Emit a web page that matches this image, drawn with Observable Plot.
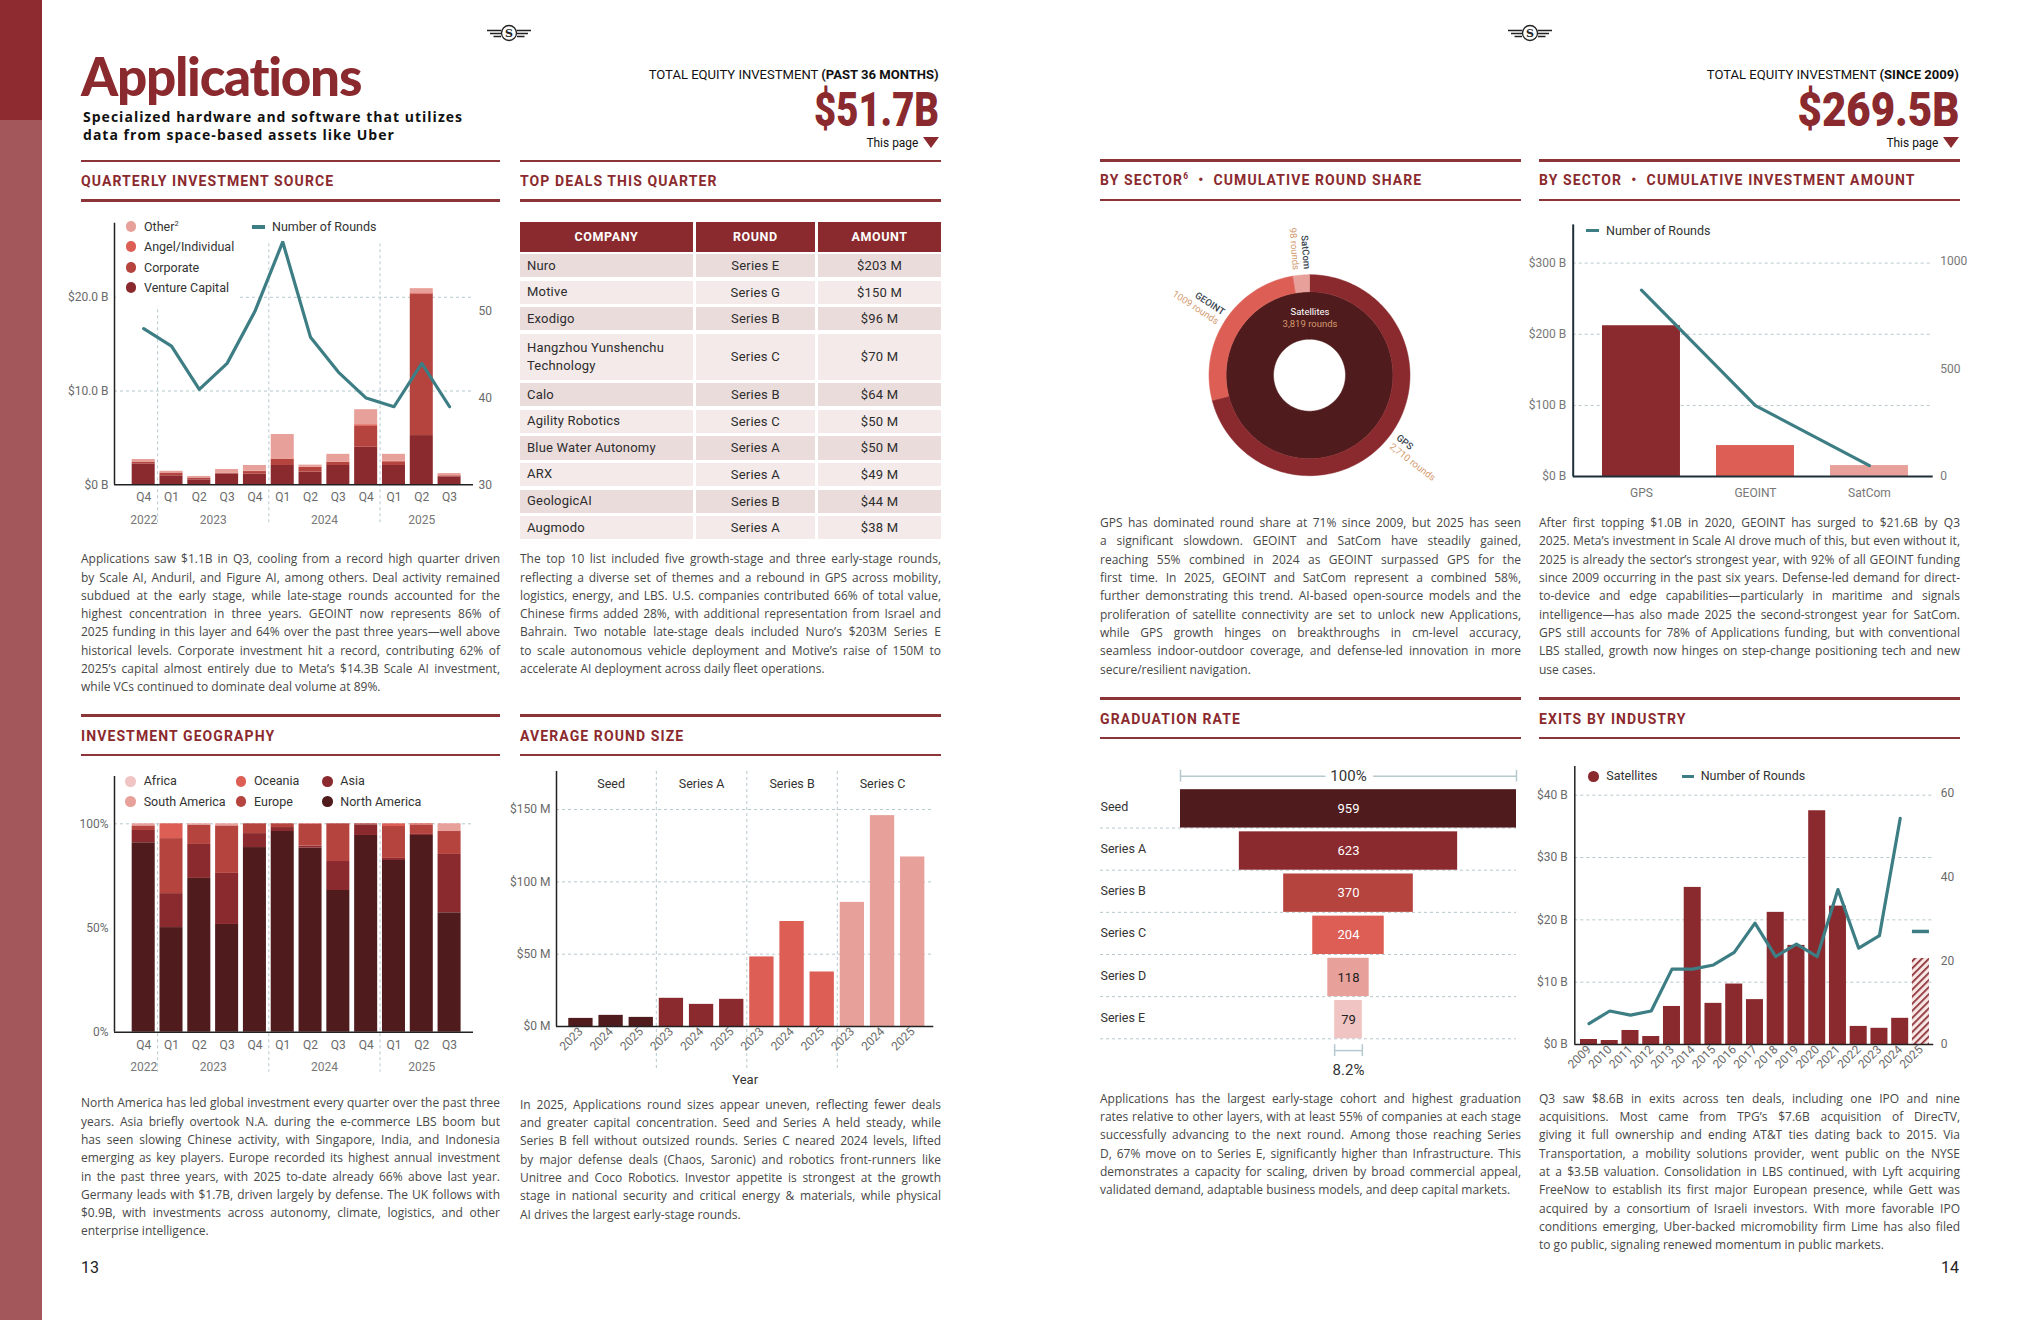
<!DOCTYPE html>
<html><head><meta charset="utf-8">
<script src="https://cdn.jsdelivr.net/npm/d3@7"></script>
<script src="https://cdn.jsdelivr.net/npm/@observablehq/plot@0.6"></script>
<style>
html,body{margin:0;padding:0;background:#fff;}
body{width:2040px;height:1320px;position:relative;overflow:hidden;font-family:Roboto,sans-serif;}
sup{font-size:0.6em;line-height:0;}
</style></head><body>
<script>
// ================= DATA =================
// Quarterly investment source ($B) and number of rounds
const quarters = ["Q4","Q1","Q2","Q3","Q4","Q1","Q2","Q3","Q4","Q1","Q2","Q3"];
const quarterYears = [2022,2023,2023,2023,2023,2024,2024,2024,2024,2025,2025,2025];
const srcVentureCapital = [2.23,0.96,0.53,1.13,1.13,2.06,1.35,2.06,4.00,2.06,5.25,0.85];
const srcCorporate      = [0.18,0.28,0.18,0.10,0.28,0.64,0.50,0.32,2.23,0.39,15.10,0.10];
const srcAngel          = [0.04,0.04,0.03,0.03,0.05,0.06,0.05,0.05,0.18,0.05,0.12,0.03];
const srcOther          = [0.25,0.16,0.15,0.37,0.60,2.60,0.20,0.82,1.60,0.75,0.45,0.22];
const quarterRounds = [48,46,41,44,50,58,47,43,40,39,44,39];

// Investment geography (% share)
const geoNorthAmerica  = [90.9,50.2,73.8,51.7,88.6,96.3,88.3,68.0,94.4,82.4,94.4,57.3];
const geoAsia          = [5.9,16.3,16.3,24.5,6.7,1.9,1.0,13.9,5.1,1.0,0.5,28.0];
const geoEurope        = [2.2,26.4,9.3,22.8,4.7,1.8,10.4,18.1,0.5,15.3,4.5,11.0];
const geoOceania       = [0,7.1,0,0,0,0,0.3,0,0,1.3,0.6,0];
const geoSouthAmerica  = [1.0,0,0.6,1.0,0,0,0,0,0,0,0,3.7];
const geoAfrica        = [0,0,0,0,0,0,0,0,0,0,0,0];

// Top deals
const dealCompanies = ["Nuro","Motive","Exodigo","Hangzhou Yunshenchu Technology","Calo","Agility Robotics","Blue Water Autonomy","ARX","GeologicAI","Augmodo"];
const dealRounds = ["Series E","Series G","Series B","Series C","Series B","Series C","Series A","Series A","Series B","Series A"];
const dealAmounts = ["$203 M","$150 M","$96 M","$70 M","$64 M","$50 M","$50 M","$49 M","$44 M","$38 M"];

// Average round size ($M)
const roundStages = ["Seed","Series A","Series B","Series C"];
const roundYears = ["2023","2024","2025"];
const avgSeed    = [5.6,7.7,6.3];
const avgSeriesA = [19.5,15.3,18.8];
const avgSeriesB = [48.1,72.6,37.7];
const avgSeriesC = [85.8,145.8,117.2];

// Cumulative round share by sector
const sectorNames = ["GPS","GEOINT","SatCom"];
const sectorRoundCounts = [2710,1009,98];
const sectorRoundText = ["2,710 rounds","1009 rounds","98 rounds"];
const satelliteRoundCount = 3819;

// Cumulative investment by sector
const sectorInvestment = [212,43.6,15.5];   // $B
const sectorRounds = [865,329,51];

// Graduation rate
const gradStages = ["Seed","Series A","Series B","Series C","Series D","Series E"];
const gradCounts = [959,623,370,204,118,79];

// Exits by industry
const exitYears = [2009,2010,2011,2012,2013,2014,2015,2016,2017,2018,2019,2020,2021,2022,2023,2024,2025];
const exitValues = [0.8,0.64,2.25,1.28,6.1,25.2,6.6,9.7,7.2,21.2,15.9,37.5,22.2,2.9,2.6,4.2,13.8];
const exitRounds = [5,8,7,8,18,18,19,22,29,21,24,21,37,23,26,54,27];

// Paragraphs
const txtQuarterly = [
"Applications saw $1.1B in Q3, cooling from a record high quarter driven",
"by Scale AI, Anduril, and Figure AI, among others. Deal activity remained",
"subdued at the early stage, while late-stage rounds accounted for the",
"highest concentration in three years. GEOINT now represents 86% of",
"2025 funding in this layer and 64% over the past three years—well above",
"historical levels. Corporate investment hit a record, contributing 62% of",
"2025’s capital almost entirely due to Meta’s $14.3B Scale AI investment,",
"while VCs continued to dominate deal volume at 89%."];
const txtDeals = [
"The top 10 list included five growth-stage and three early-stage rounds,",
"reflecting a diverse set of themes and a rebound in GPS  across mobility,",
"logistics, energy, and LBS. U.S. companies contributed 66% of total value,",
"Chinese firms added 28%, with additional representation from Israel and",
"Bahrain. Two notable late-stage deals included Nuro’s $203M Series E",
"to scale autonomous vehicle deployment and Motive’s raise of 150M to",
"accelerate AI deployment across daily fleet operations."];
const txtShare = [
"GPS has dominated round share at 71% since 2009, but 2025 has seen",
"a significant slowdown. GEOINT and SatCom have steadily gained,",
"reaching 55% combined in 2024 as GEOINT surpassed GPS for the",
"first time. In 2025, GEOINT and SatCom represent a combined 58%,",
"further demonstrating this trend. AI-based open-source models and the",
"proliferation of satellite connectivity are set to unlock new Applications,",
"while GPS growth hinges on breakthroughs in cm-level accuracy,",
"seamless indoor-outdoor coverage, and defense-led innovation in more",
"secure/resilient navigation."];
const txtAmount = [
"After first topping $1.0B in 2020, GEOINT has surged to $21.6B by Q3",
"2025. Meta’s investment in Scale AI drove much of this, but even without it,",
"2025 is already the sector’s strongest year, with 92% of all GEOINT funding",
"since 2009 occurring in the past six years. Defense-led demand for direct-",
"to-device and edge capabilities—particularly in maritime and signals",
"intelligence—has also made 2025 the second-strongest year for SatCom.",
"GPS still accounts for 78% of Applications funding, but with conventional",
"LBS stalled, growth now hinges on step-change positioning tech and new",
"use cases."];
const txtGeo = [
"North America has led global investment every quarter over the past three",
"years. Asia briefly overtook N.A. during the e-commerce LBS boom but",
"has seen slowing Chinese activity, with Singapore, India, and Indonesia",
"emerging as key players. Europe recorded its highest annual investment",
"in the past three years, with 2025 to-date already 66% above last year.",
"Germany leads with $1.7B, driven largely by defense. The UK follows with",
"$0.9B, with investments across autonomy, climate, logistics, and other",
"enterprise intelligence."];
const txtRound = [
"In 2025, Applications round sizes appear uneven, reflecting fewer deals",
"and greater capital concentration. Seed and Series A held steady, while",
"Series B fell without outsized rounds. Series C neared 2024 levels, lifted",
"by major defense deals (Chaos, Saronic) and robotics front-runners like",
"Unitree and Coco Robotics. Investor appetite is strongest at the growth",
"stage in national security and critical energy & materials, while physical",
"AI drives the largest early-stage rounds."];
const txtGrad = [
"Applications has the largest early-stage cohort and highest graduation",
"rates relative to other layers, with at least 55% of companies at each stage",
"successfully advancing to the next round. Among those reaching Series",
"D, 67% move on to Series E, significantly higher than Infrastructure. This",
"demonstrates a capacity for scaling, driven by broad commercial appeal,",
"validated demand, adaptable business models, and deep capital markets."];
const txtExits = [
"Q3 saw $8.6B in exits across ten deals, including one IPO and nine",
"acquisitions. Most came from TPG’s $7.6B acquisition of DirecTV,",
"giving it full ownership and ending AT&T ties dating back to 2015. Via",
"Transportation, a mobility solutions provider, went public on the NYSE",
"at a $3.5B valuation. Consolidation in LBS continued, with Lyft acquiring",
"FreeNow to establish its first major European presence, while Gett was",
"acquired by a consortium of Israeli investors. With more favorable IPO",
"conditions emerging, Uber-backed micromobility firm Lime has also filed",
"to go public, signaling renewed momentum in public markets."];

// ================= STYLE =================
const C = {dk:"#4F1B1C", r1:"#8B2A2E", r2:"#B5443F", r3:"#DC5E55", r4:"#E8A09A", r5:"#F0C4C2",
           teal:"#3D7D84", grid:"#b5c9ce", tan:"#d49a70"};
const baseStyle = {background:"transparent", overflow:"visible", fontFamily:"Roboto", fontSize:"12px", color:"#6a6a6a"};

function div(style, html, parent) {
  const d = document.createElement('div');
  d.style.cssText = 'position:absolute;' + style;
  if (html != null) d.innerHTML = html;
  (parent || document.body).appendChild(d);
  return d;
}
function place(svg, left, top, w) {
  const d = div(`left:${left}px;top:${top}px;width:${w}px;`);
  d.appendChild(svg);
  return d;
}
function fitScale(el, target, origin) {
  const w = el.getBoundingClientRect().width;
  el.style.transformOrigin = origin || 'left center';
  el.style.transform = `scaleX(${target / w})`;
}
function fitSpacing(el, target) {
  const w = el.getBoundingClientRect().width;
  const n = el.textContent.length;
  const cur = parseFloat(getComputedStyle(el).letterSpacing) || 0;
  el.style.letterSpacing = (cur + (target - w) / n) + 'px';
}
function para(x, yFirst, w, lines) {
  const p = div(`left:${x}px;top:${yFirst - 9.15}px;width:${w}px;font:12px 'Open Sans';color:#474747;`);
  lines.forEach((t0, i) => {
    const t = t0.replace(/\s+/g, ' ');
    const ln = document.createElement('div');
    ln.style.cssText = 'height:18.3px;line-height:18.3px;white-space:nowrap;';
    const sp = document.createElement('span');
    sp.textContent = t;
    ln.appendChild(sp); p.appendChild(ln);
    if (i < lines.length - 1) {
      const nat = sp.getBoundingClientRect().width;
      const n = (t.match(/ /g) || []).length;
      if (n) sp.style.wordSpacing = ((w - nat) / n) + 'px';
    }
  });
}

// ================= PAGE FRAME =================
div('left:0;top:0;width:42px;height:120px;background:#8E2B30;');
div('left:0;top:120px;width:42px;height:1200px;background:#A3575A;');

const logoSvg = `<svg width="46" height="24" viewBox="0 0 46 24"><g stroke="#222" stroke-width="1.3" fill="none"><circle cx="23" cy="12" r="7.5"/><path d="M1 9.5H15M4 12.5H15M7.5 15.5H15M31 9.5H45M31 12.5H42M31 15.5H38.5"/></g><text x="23" y="16.2" text-anchor="middle" font-size="11" font-weight="700" font-family="DejaVu Serif" fill="#222">S</text></svg>`;
div('left:486px;top:21px;', logoSvg);
div('left:1507px;top:21px;', logoSvg);

// Title block
const title = div('left:81px;top:53.5px;font:900 53px Lato;line-height:44px;color:#8B2A2E;white-space:nowrap;', 'Applications');
fitSpacing(title, 281);
const sub1 = div('left:83px;top:108px;font:700 14px "Open Sans";line-height:18.2px;color:#111;white-space:nowrap;', 'Specialized hardware and software that utilizes');
fitSpacing(sub1, 380);
const ls = sub1.style.letterSpacing;
div(`left:83px;top:126.2px;font:700 14px "Open Sans";line-height:18.2px;color:#111;white-space:nowrap;letter-spacing:${ls}`, 'data from space-based assets like Uber');

function totalBlock(rightEdge, label, bold, amount, wLabel, wAmount) {
  const r = 2040 - rightEdge;
  const t = div(`right:${r}px;top:67.5px;font:400 13px Roboto;line-height:13px;color:#111;white-space:nowrap;`, `${label} <b>${bold}</b>`);
  fitScale(t, wLabel, 'right center');
  const a = div(`right:${r}px;top:84.7px;font:900 49px Roboto;line-height:49px;color:#8B2A2E;white-space:nowrap;`, amount);
  fitScale(a, wAmount, 'right center');
  const tp = div(`right:${r + 21}px;top:135.5px;font:400 12.5px Roboto;line-height:13px;color:#111;white-space:nowrap;`, 'This page');
  fitScale(tp, 52, 'right center');
  div(`right:${r}px;top:137px;width:0;height:0;border-left:8px solid transparent;border-right:8px solid transparent;border-top:11px solid #8B2A2E;`);
}
totalBlock(939, 'TOTAL EQUITY INVESTMENT', '(PAST 36 MONTHS)', '$51.7B', 290, 125);
totalBlock(1959, 'TOTAL EQUITY INVESTMENT', '(SINCE 2009)', '$269.5B', 252, 162);

// Section rules and headers
const cols = [{x:81,w:419},{x:520,w:421},{x:1100,w:421},{x:1539,w:421}];
function section(col, yTop, label) {
  div(`left:${col.x}px;top:${yTop - 1.25}px;width:${col.w}px;height:2.5px;background:#8b3539;`);
  div(`left:${col.x}px;top:${yTop + 39.5 - 1.25}px;width:${col.w}px;height:2.5px;background:#8b3539;`);
  div(`left:${col.x}px;top:${yTop + 20 - 8}px;font:700 14px Roboto;letter-spacing:1.1px;color:#8b2a2e;line-height:16px;white-space:nowrap;`, label);
}
section(cols[0], 160.8, "QUARTERLY INVESTMENT SOURCE");
section(cols[1], 160.8, "TOP DEALS THIS QUARTER");
section(cols[2], 160.3, "BY SECTOR<sup>6</sup> &nbsp;•&nbsp; CUMULATIVE ROUND SHARE");
section(cols[3], 160.3, "BY SECTOR &nbsp;•&nbsp; CUMULATIVE INVESTMENT AMOUNT");
section(cols[0], 715.7, "INVESTMENT GEOGRAPHY");
section(cols[1], 715.7, "AVERAGE ROUND SIZE");
section(cols[2], 698.7, "GRADUATION RATE");
section(cols[3], 698.7, "EXITS BY INDUSTRY");

// Paragraphs
para(81, 559.4, 419, txtQuarterly);
para(520, 559.4, 421, txtDeals);
para(1100, 523.3, 421, txtShare);
para(1539, 523.3, 421, txtAmount);
para(81, 1103.5, 419, txtGeo);
para(520, 1105, 421, txtRound);
para(1100, 1099, 421, txtGrad);
para(1539, 1099, 421, txtExits);

div('left:81px;top:1260px;font:400 16px Roboto;line-height:16px;color:#222;', '13');
div('right:81px;top:1260px;font:400 16px Roboto;line-height:16px;color:#222;', '14');

// ================= HELPERS FOR CHARTS =================
function yearCenters(years, xd) {
  return d3.groups(years.map((y, i) => ({y, i})), d => d.y).map(([y, arr]) => {
    const a = Math.max(xd[0], d3.min(arr, d => d.i) - 0.5);
    const b = Math.min(xd[1], d3.max(arr, d => d.i) + 0.5);
    return {year: String(y), x: (a + b) / 2};
  });
}
function yearDividers(years) {
  return years.map((y, i) => i).filter(i => i > 0 && years[i] !== years[i - 1]).map(i => i - 0.5);
}
function stackRows(series) { // series: [{vals, color}], bottom to top
  const rows = [];
  series[0].vals.forEach((_, i) => {
    let acc = 0;
    series.forEach(s => { const v = s.vals[i]; if (v > 0) rows.push({i, y1: acc, y2: acc + v, color: s.color}); acc += v; });
  });
  return rows;
}
const dash = {stroke: C.grid, strokeDasharray: "3,3", strokeWidth: 1};

// ================= CHART 1: QUARTERLY INVESTMENT SOURCE =================
try {
  const qIdx = d3.range(quarters.length);
  const xd = [-1.05, 11.86];
  const k = 0.925; // $B per round above 30
  const rows = stackRows([
    {vals: srcVentureCapital, color: C.r1},
    {vals: srcCorporate, color: C.r2},
    {vals: srcAngel, color: C.r3},
    {vals: srcOther, color: C.r4}]);
  const svg = Plot.plot({
    width: 450, height: 330, marginLeft: 54, marginRight: 37, marginTop: 12.7, marginBottom: 55.7,
    style: baseStyle,
    x: {domain: xd, axis: null}, y: {domain: [0, 27.9], axis: null}, color: {type: "identity"},
    marks: [
      Plot.ruleY([10, 20], dash),
      Plot.ruleX(yearDividers(quarterYears), {...dash, y1: 25.7, y2: -4.1}),
      Plot.rect(rows, {x1: d => d.i - 0.414, x2: d => d.i + 0.414, y1: "y1", y2: "y2", fill: "color"}),
      Plot.line(quarterRounds, {x: (d, i) => i, y: d => (d - 30) * k, stroke: C.teal, strokeWidth: 3.2}),
      Plot.ruleX([xd[0]], {stroke: "#222", strokeWidth: 1.5}),
      Plot.ruleY([0], {stroke: "#222", strokeWidth: 1.5}),
      Plot.axisY({ticks: [0, 10, 20], tickFormat: d => d === 0 ? "$0 B" : `$${d.toFixed(1)} B`, tickSize: 0, tickPadding: 6, label: null}),
      Plot.axisY({anchor: "right", ticks: [30, 40, 50].map(r => (r - 30) * k), tickFormat: d => String(Math.round(d / k + 30)), tickSize: 0, tickPadding: 5, label: null}),
      Plot.axisX({ticks: qIdx, tickFormat: i => quarters[i], tickSize: 0, tickPadding: 8, label: null}),
      Plot.text(yearCenters(quarterYears, xd), {x: "x", y: 0, dy: 35, text: "year", fill: "#777", fontSize: 12})
    ]
  });
  place(svg, 60, 210, 450);
} catch (e) { console.error(e); }

// ================= CHART 5: INVESTMENT GEOGRAPHY =================
try {
  const qIdx = d3.range(quarters.length);
  const xd = [-1.05, 11.86];
  const rows = stackRows([
    {vals: geoNorthAmerica, color: C.dk},
    {vals: geoAsia, color: C.r1},
    {vals: geoEurope, color: C.r2},
    {vals: geoOceania, color: C.r3},
    {vals: geoSouthAmerica, color: C.r4},
    {vals: geoAfrica, color: C.r5}]);
  const svg = Plot.plot({
    width: 450, height: 320, marginLeft: 54, marginRight: 37, marginTop: 11, marginBottom: 53.3,
    style: baseStyle,
    x: {domain: xd, axis: null}, y: {domain: [0, 122.7], axis: null}, color: {type: "identity"},
    marks: [
      Plot.ruleY([100], dash),
      Plot.ruleX(yearDividers(quarterYears), {...dash, y1: 100, y2: -19.2}),
      Plot.rect(rows, {x1: d => d.i - 0.414, x2: d => d.i + 0.414, y1: "y1", y2: "y2", fill: "color"}),
      Plot.ruleX([xd[0]], {stroke: "#222", strokeWidth: 1.5}),
      Plot.ruleY([0], {stroke: "#222", strokeWidth: 1.5}),
      Plot.axisY({ticks: [0, 50, 100], tickFormat: d => d + "%", tickSize: 0, tickPadding: 6, label: null}),
      Plot.axisX({ticks: qIdx, tickFormat: i => quarters[i], tickSize: 0, tickPadding: 8, label: null}),
      Plot.text(yearCenters(quarterYears, xd), {x: "x", y: 0, dy: 35, text: "year", fill: "#777", fontSize: 12})
    ]
  });
  place(svg, 60, 765, 450);
} catch (e) { console.error(e); }

// ================= CHART 6: AVERAGE ROUND SIZE =================
try {
  const avgBy = [avgSeed, avgSeriesA, avgSeriesB, avgSeriesC];
  const avgColors = [C.dk, C.r1, C.r3, C.r4];
  const rows = [];
  avgBy.forEach((arr, g) => arr.forEach((v, j) => rows.push({i: g * 3 + j, v, color: avgColors[g], year: roundYears[j]})));
  const xd = [-0.81, 11.7];
  const yMax = 176.3;
  const groups = roundStages.map((s, g) => {
    const a = Math.max(xd[0], g * 3 - 0.5), b = Math.min(xd[1], g * 3 + 2.5);
    return {s, x: (a + b) / 2};
  });
  const bounds = roundStages.slice(1).map((s, g) => (g + 1) * 3 - 0.5);
  const svg = Plot.plot({
    width: 450, height: 330, marginLeft: 56, marginRight: 16.7, marginTop: 6, marginBottom: 69,
    style: baseStyle,
    x: {domain: xd, axis: null}, y: {domain: [0, yMax], axis: null}, color: {type: "identity"},
    marks: [
      Plot.ruleY([50, 100, 150], dash),
      Plot.ruleX(bounds, {...dash, y1: yMax, y2: -30.4}),
      Plot.rect(rows, {x1: d => d.i - 0.403, x2: d => d.i + 0.403, y1: 0, y2: "v", fill: "color"}),
      Plot.ruleX([xd[0]], {stroke: "#222", strokeWidth: 1.5}),
      Plot.ruleY([0], {stroke: "#222", strokeWidth: 1.5}),
      Plot.axisY({ticks: [0, 50, 100, 150], tickFormat: d => `$${d} M`, tickSize: 0, tickPadding: 6, label: null}),
      Plot.axisX({ticks: rows.map(d => d.i), tickFormat: i => rows[i].year, tickRotate: -45, tickSize: 0, tickPadding: 3, label: null}),
      Plot.text(groups, {x: "x", y: yMax, dy: 12.3, text: "s", fill: "#333", fontSize: 12.5}),
      Plot.text(["Year"], {frameAnchor: "bottom", dy: 57, fill: "#333", fontSize: 13})
    ]
  });
  place(svg, 500, 765, 450);
} catch (e) { console.error(e); }

// ================= DONUT: CUMULATIVE ROUND SHARE =================
try {
  const sectorColors = [C.r1, C.r3, C.r4];
  const total = d3.sum(sectorRoundCounts);
  let acc = 0;
  const segs = sectorRoundCounts.map((v, i) => {
    const a0 = acc; acc += v / total * 2 * Math.PI;
    return {name: sectorNames[i], a0, a1: acc, color: sectorColors[i], text: sectorRoundText[i]};
  });
  const rHole = 36, rIn = 83.4, rOut = 100.5;
  function arcPts(a0, a1, r0, r1, key, color) {
    const n = Math.max(3, Math.ceil((a1 - a0) / (2 * Math.PI) * 240));
    return d3.range(n + 1).map(j => {
      const t = a0 + (a1 - a0) * j / n;
      return {key, color, x1: r0 * Math.sin(t), y1: r0 * Math.cos(t), x2: r1 * Math.sin(t), y2: r1 * Math.cos(t)};
    });
  }
  const ring = segs.flatMap(s => arcPts(s.a0, s.a1, rIn, rOut, s.name, s.color));
  const disk = arcPts(0, 2 * Math.PI, rHole, rIn, "Satellites", C.dk);
  const labels = segs.map(s => {
    const m = (s.a0 + s.a1) / 2, deg = m * 180 / Math.PI, right = deg < 180;
    const rot = right ? deg - 90 : deg - 270;
    const rr = rot * Math.PI / 180, ux = Math.sin(rr), uy = Math.cos(rr);
    const r = rOut + 6, bx = r * Math.sin(m), by = r * Math.cos(m);
    return {...s, right, rot, nx: bx + 5.5 * ux, ny: by + 5.5 * uy, tx: bx - 5.5 * ux, ty: by - 5.5 * uy};
  });
  const L = labels.filter(d => !d.right), R = labels.filter(d => d.right);
  const nameOpt = {fill: "#3a4650", fontSize: 9.5, fontWeight: 500, rotate: "rot"};
  const cntOpt = {fill: C.tan, fontSize: 9.5, rotate: "rot"};
  const svg = Plot.plot({
    width: 420, height: 290, margin: 0,
    style: baseStyle,
    x: {domain: [-209.5, 210.5], axis: null}, y: {domain: [-119.8, 170.2], axis: null}, color: {type: "identity"},
    marks: [
      Plot.area(disk, {x1: "x1", y1: "y1", x2: "x2", y2: "y2", z: "key", fill: "color", stroke: "color", strokeWidth: 0.5}),
      Plot.area(ring, {x1: "x1", y1: "y1", x2: "x2", y2: "y2", z: "key", fill: "color", stroke: "color", strokeWidth: 0.5}),
      Plot.text(R, {x: "nx", y: "ny", text: "name", textAnchor: "start", ...nameOpt}),
      Plot.text(R, {x: "tx", y: "ty", text: "text", textAnchor: "start", ...cntOpt}),
      Plot.text(L, {x: "nx", y: "ny", text: "name", textAnchor: "end", ...nameOpt}),
      Plot.text(L, {x: "tx", y: "ty", text: "text", textAnchor: "end", ...cntOpt}),
      Plot.text(["Satellites"], {x: 0, y: 63.7, fill: "#fff", fontSize: 9.5}),
      Plot.text([d3.format(",")(satelliteRoundCount) + " rounds"], {x: 0, y: 51.6, fill: C.tan, fontSize: 9.5})
    ]
  });
  place(svg, 1100, 205, 420);
} catch (e) { console.error(e); }

// ================= CHART 4: CUMULATIVE INVESTMENT AMOUNT =================
try {
  const sectorColors = [C.r1, C.r3, C.r4];
  const xd = [-0.599, 2.559];
  const k = 0.303; // $B per round
  const rows = sectorNames.map((s, i) => ({i, s, v: sectorInvestment[i], color: sectorColors[i]}));
  const svg = Plot.plot({
    width: 470, height: 300, marginLeft: 72.7, marginRight: 37.3, marginTop: 14.4, marginBottom: 33.9,
    style: {...baseStyle, color: "#777"},
    x: {domain: xd, axis: null}, y: {domain: [0, 353.7], axis: null}, color: {type: "identity"},
    marks: [
      Plot.ruleY([100, 200, 300], dash),
      Plot.rect(rows, {x1: d => d.i - 0.342, x2: d => d.i + 0.342, y1: 0, y2: "v", fill: "color"}),
      Plot.line(sectorRounds, {x: (d, i) => i, y: d => d * k, stroke: C.teal, strokeWidth: 3.2}),
      Plot.ruleX([xd[0]], {stroke: "#1f2f38", strokeWidth: 2}),
      Plot.ruleY([0], {stroke: "#1f2f38", strokeWidth: 2}),
      Plot.axisY({ticks: [0, 100, 200, 300], tickFormat: d => `$${d} B`, tickSize: 0, tickPadding: 7, label: null}),
      Plot.axisY({anchor: "right", ticks: [0, 500, 1000].map(r => r * k), tickFormat: d => String(Math.round(d / k)), tickSize: 0, tickPadding: 7, label: null}),
      Plot.axisX({ticks: rows.map(d => d.i), tickFormat: i => sectorNames[i], tickSize: 0, tickPadding: 12, label: null})
    ]
  });
  place(svg, 1500, 210, 470);
} catch (e) { console.error(e); }

// ================= CHART 7: GRADUATION RATE =================
try {
  const gradColors = [C.dk, C.r1, C.r2, C.r3, C.r4, C.r5];
  const xd = [-707.8, 479.5];
  const rows = gradStages.map((s, i) => ({s, i, v: gradCounts[i], color: gradColors[i]}));
  const firstHalf = gradCounts[0] / 2, lastHalf = gradCounts[gradCounts.length - 1] / 2;
  const n = gradStages.length;
  const bracket = {stroke: C.grid, strokeWidth: 1.5};
  const svg = Plot.plot({
    width: 440, height: 330, marginLeft: 10, marginRight: 14, marginTop: 30.4, marginBottom: 46.7,
    style: {...baseStyle, color: "#333"},
    x: {domain: xd, axis: null}, y: {domain: [0, n], reverse: true, axis: null}, color: {type: "identity"},
    marks: [
      Plot.ruleY(d3.range(1, n + 1), dash),
      Plot.rect(rows, {x1: d => -d.v / 2, x2: d => d.v / 2, y1: d => d.i + 0.09, y2: d => d.i + 1, fill: "color"}),
      Plot.text(rows, {x: xd[0], y: d => d.i + 0.5, text: "s", textAnchor: "start", fill: "#333", fontSize: 12.5}),
      Plot.text(rows, {x: 0, y: d => d.i + 0.545, text: d => String(d.v), fill: d => d.i < 4 ? "#ffffff" : "#222222", fontSize: 13}),
      Plot.ruleY([-0.23], {x1: -firstHalf, x2: firstHalf, ...bracket}),
      Plot.ruleX([-firstHalf, firstHalf], {y1: -0.37, y2: -0.09, ...bracket}),
      Plot.text([d3.format(".0%")(gradCounts[0] / gradCounts[0])], {x: 0, y: -0.23, fontSize: 15, fill: "#333", stroke: "white", strokeWidth: 14}),
      Plot.ruleY([n + 0.28], {x1: -lastHalf, x2: lastHalf, ...bracket}),
      Plot.ruleX([-lastHalf, lastHalf], {y1: n + 0.14, y2: n + 0.42, ...bracket}),
      Plot.text([d3.format(".1%")(gradCounts[n - 1] / gradCounts[0])], {x: 0, y: n + 0.74, fontSize: 15, fill: "#333"})
    ]
  });
  place(svg, 1090, 755, 440);
} catch (e) { console.error(e); }

// ================= CHART 8: EXITS BY INDUSTRY =================
try {
  const xd = [-0.684, 16.62];
  const k = 0.6717; // $B per round
  const last = exitYears.length - 1;
  const rows = exitYears.map((y, i) => ({i, y, v: exitValues[i]}));
  const lineRows = exitRounds.slice(0, last);
  const svg = Plot.plot({
    width: 470, height: 330, marginLeft: 74.3, marginRight: 36.7, marginTop: 16, marginBottom: 36,
    style: baseStyle,
    x: {domain: xd, axis: null}, y: {domain: [0, 44.6], axis: null},
    marks: [
      Plot.ruleY([10, 20, 30, 40], dash),
      Plot.rect(rows.slice(0, last), {x1: d => d.i - 0.41, x2: d => d.i + 0.41, y1: 0, y2: "v", fill: C.r1}),
      Plot.rect(rows.slice(last), {x1: d => d.i - 0.41, x2: d => d.i + 0.41, y1: 0, y2: "v", fill: "url(#exitHatch)"}),
      Plot.line(lineRows, {x: (d, i) => i, y: d => d * k, stroke: C.teal, strokeWidth: 3.2}),
      Plot.ruleY([exitRounds[last] * k], {x1: last - 0.41, x2: last + 0.41, stroke: C.teal, strokeWidth: 3.5}),
      Plot.ruleX([xd[0]], {stroke: "#222", strokeWidth: 1.5}),
      Plot.ruleY([0], {stroke: "#222", strokeWidth: 1.5}),
      Plot.axisY({ticks: [0, 10, 20, 30, 40], tickFormat: d => `$${d} B`, tickSize: 0, tickPadding: 7, label: null}),
      Plot.axisY({anchor: "right", ticks: [0, 20, 40, 60].map(r => r * k), tickFormat: d => String(Math.round(d / k)), tickSize: 0, tickPadding: 7, label: null}),
      Plot.axisX({ticks: rows.map(d => d.i), tickFormat: i => String(exitYears[i]), tickRotate: -45, tickSize: 0, tickPadding: 3, label: null})
    ]
  });
  const defs = document.createElementNS("http://www.w3.org/2000/svg", "defs");
  defs.innerHTML = `<pattern id="exitHatch" patternUnits="userSpaceOnUse" width="5" height="5" patternTransform="rotate(45)"><rect width="5" height="5" fill="#f6e6e6"/><rect width="1.7" height="5" fill="#8B2A2E"/></pattern>`;
  svg.insertBefore(defs, svg.firstChild);
  place(svg, 1500, 750, 470);
} catch (e) { console.error(e); }

// ================= TABLE: TOP DEALS =================
(function () {
  const colX = [520, 696, 818], colW = [172.7, 118.7, 123];
  ["COMPANY", "ROUND", "AMOUNT"].forEach((h, j) =>
    div(`left:${colX[j]}px;top:222px;width:${colW[j]}px;height:30px;background:#8b2a2e;color:#fff;font:700 12.5px Roboto;line-height:30px;letter-spacing:0.6px;text-align:center;`, h));
  let ty = 254;
  dealCompanies.forEach((c, i) => {
    const bg = i % 2 === 0 ? "#ebdcdc" : "#f4eaea";
    const cell = div(`left:${colX[0]}px;top:${ty}px;width:${colW[0] - 14}px;padding:0 7px;background:${bg};font:13px Roboto;color:#2d2d2d;line-height:18.3px;display:flex;align-items:center;letter-spacing:0.2px;`, c);
    const lines = Math.round(cell.scrollHeight / 18.3);
    const h = lines > 1 ? 46 : 23.3;
    cell.style.height = h + 'px';
    [dealRounds[i], dealAmounts[i]].forEach((t, j) =>
      div(`left:${colX[j + 1]}px;top:${ty}px;width:${colW[j + 1]}px;height:${h}px;background:${bg};font:13px Roboto;line-height:${h}px;color:#2d2d2d;text-align:center;letter-spacing:0.2px;`, t));
    ty += h + 3.3;
  });
})();

// ================= LEGENDS (HTML, over charts) =================
function dotItem(x, y, color, label) {
  div(`left:${x - 5.3}px;top:${y - 5.3}px;width:10.6px;height:10.6px;border-radius:50%;background:${color};`);
  div(`left:${x + 13}px;top:${y - 8}px;font:12.5px Roboto;line-height:16px;color:#333;white-space:nowrap;`, label);
}
function lineItem(x, y, label, textX) {
  div(`left:${x}px;top:${y - 1.8}px;width:12.5px;height:3.6px;background:${C.teal};`);
  div(`left:${textX}px;top:${y - 8}px;font:12.5px Roboto;line-height:16px;color:#333;white-space:nowrap;`, label);
}
// chart 1
div('left:116px;top:214px;width:121px;height:92px;background:#fff;');
div('left:246px;top:214px;width:100px;height:27px;background:#fff;');
dotItem(131, 226.5, C.r4, 'Other<sup>2</sup>');
dotItem(131, 246.5, C.r3, 'Angel/Individual');
dotItem(131, 267.5, C.r2, 'Corporate');
dotItem(131, 287.5, C.r1, 'Venture Capital');
lineItem(252, 227, 'Number of Rounds', 272);
// chart 5
dotItem(130.7, 781.3, C.r5, 'Africa');
dotItem(130.7, 801.7, C.r4, 'South America');
dotItem(241, 781.3, C.r3, 'Oceania');
dotItem(241, 801.7, C.r2, 'Europe');
dotItem(327.3, 781.3, C.r1, 'Asia');
dotItem(327.3, 801.7, C.dk, 'North America');
// chart 4
lineItem(1586, 230.6, 'Number of Rounds', 1606);
// chart 8
dotItem(1593.3, 776.3, C.r1, 'Satellites');
lineItem(1681.7, 776.3, 'Number of Rounds', 1700.7);
</script>
</body></html>
